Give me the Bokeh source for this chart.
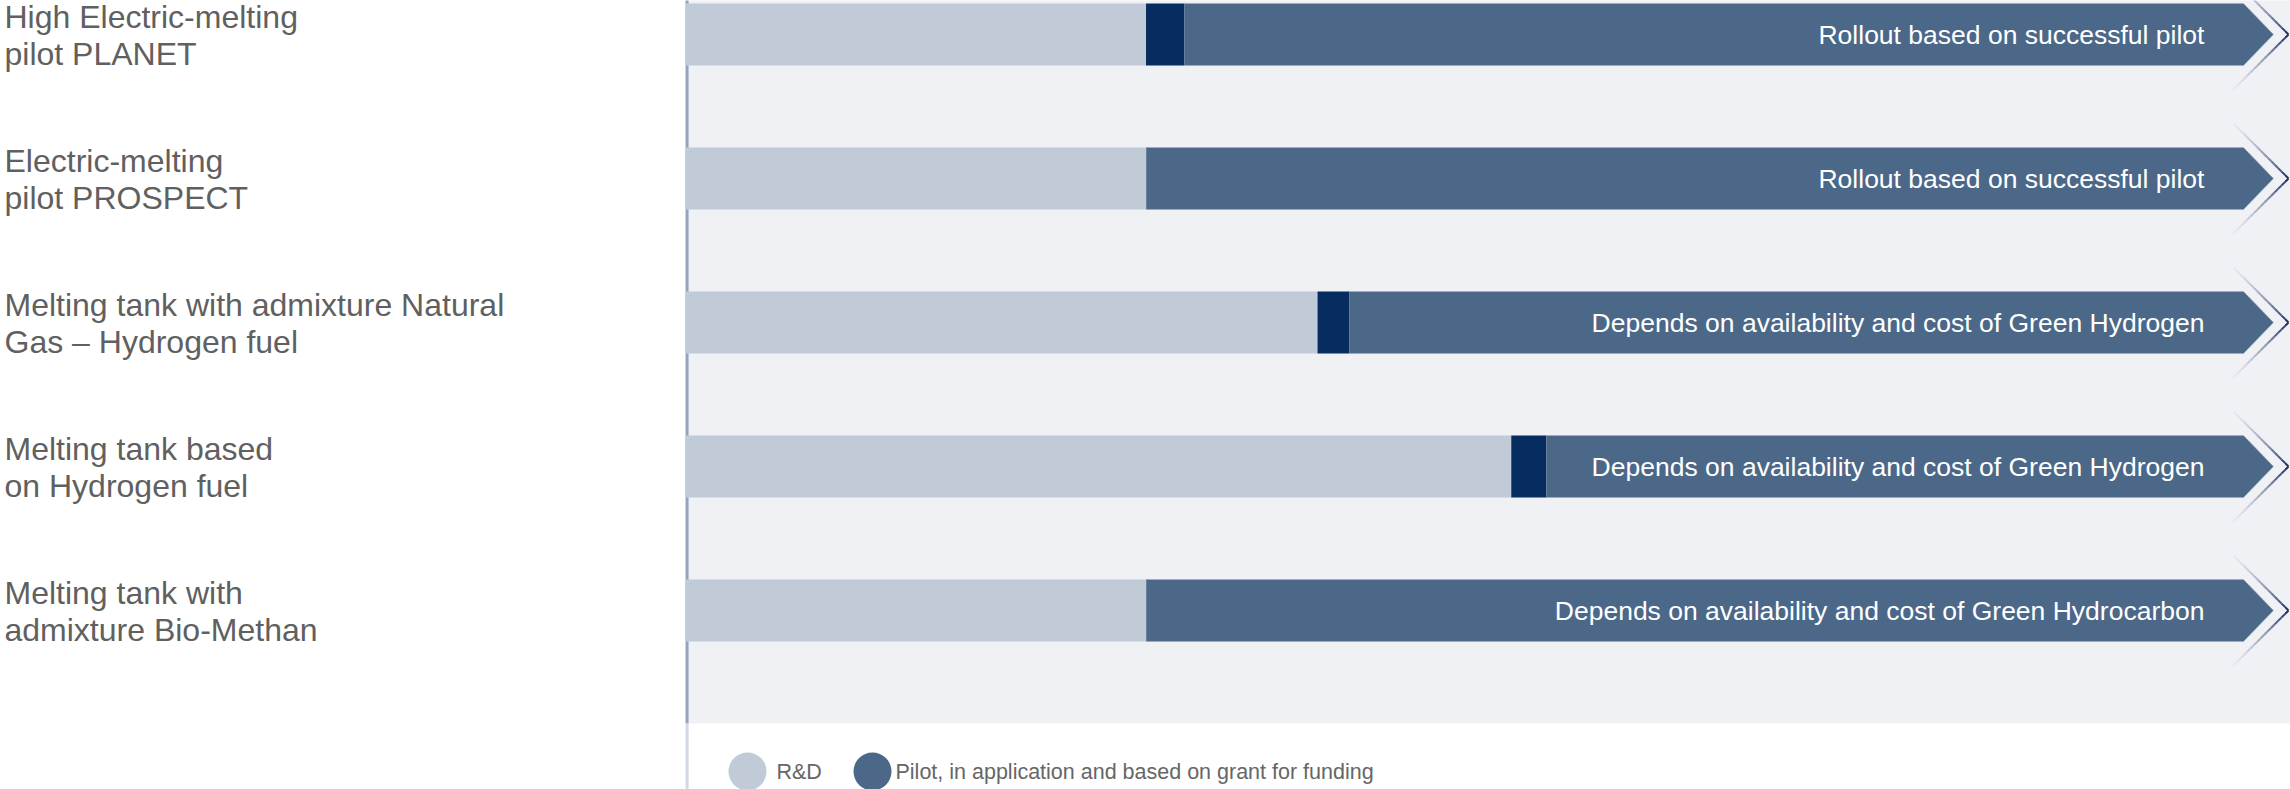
from bokeh.plotting import figure
from bokeh.models import Range1d
from bokeh.core.properties import value
from bokeh.embed import file_html
from bokeh.resources import INLINE

# ---------------- data ----------------
categories = [
    "High Electric-melting\npilot PLANET",
    "Electric-melting\npilot PROSPECT",
    "Melting tank with admixture Natural\nGas \u2013 Hydrogen fuel",
    "Melting tank based\non Hydrogen fuel",
    "Melting tank with\nadmixture Bio-Methan",
]
rd_end = [29.0, 29.0, 39.8, 52.0, 29.0]        # end of R&D phase (timeline %)
pilot_end = [31.4, 29.0, 41.8, 54.2, 29.0]     # end of pilot phase (== rd_end -> no pilot)
rollout_end = [100, 100, 100, 100, 100]        # arrow tip
notes = [
    "Rollout based on successful pilot",
    "Rollout based on successful pilot",
    "Depends on availability and cost of Green Hydrogen",
    "Depends on availability and cost of Green Hydrogen",
    "Depends on availability and cost of Green Hydrocarbon",
]
legend_labels = ["R&D", "Pilot, in application and based on grant for funding"]

# ---------------- style ----------------
C_RD = "#c1cbd8"
C_PILOT = "#062c60"
C_ROLL = "#4b6889"
C_BG = "#eff1f5"
C_LABEL = "#606060"
FONT = value("Liberation Sans")

W, H = 2290, 789
PX_X = 15.88            # px per timeline unit
X0 = 685                # px of timeline 0
PX_Y = 144              # px per category
Y0 = 34                 # px of first category centre

x_start = -X0 / PX_X
x_end = (W - X0) / PX_X
y_top = (0 - Y0) / PX_Y
y_bot = (H - Y0) / PX_Y

p = figure(width=W, height=H, x_range=Range1d(x_start, x_end),
           y_range=Range1d(y_bot, y_top), output_backend="svg",
           toolbar_location=None, x_axis_location=None, y_axis_location=None,
           min_border=0, outline_line_color=None, title=None,
           background_fill_color="white", border_fill_color="white")
p.xgrid.visible = False
p.ygrid.visible = False

ys = list(range(len(categories)))
half = 31 / PX_Y
bar_h = 2 * half
panel_bottom = (723 - Y0) / PX_Y

# background panel
p.quad(left=[0], right=[x_end + 1], top=[y_top - 1], bottom=[panel_bottom],
       fill_color=C_BG, line_color=None)

# axis line
p.segment(x0=[0.1], x1=[0.1], y0=[y_top - 1], y1=[panel_bottom],
          line_color="#95a4bb", line_width=3)
p.segment(x0=[0.1], x1=[0.1], y0=[panel_bottom], y1=[y_bot + 1],
          line_color="#d3d9e2", line_width=3)

# rollout arrows
head = 30 / PX_X
xs_poly, ys_poly = [], []
for y, s, e in zip(ys, pilot_end, rollout_end):
    be = e - head
    xs_poly.append([s, be, e, be, s])
    ys_poly.append([y - half, y - half, y, y + half, y + half])
p.patches(xs_poly, ys_poly, fill_color=C_ROLL, line_color="#9fadc1", line_width=1, line_alpha=0.6)

# R&D bars
p.hbar(y=ys, left=[0] * len(ys), right=rd_end, height=bar_h, fill_color=C_RD, line_color=None)
# pilot bars
p.hbar(y=ys, left=rd_end, right=pilot_end, height=bar_h, fill_color=C_PILOT, line_color=None)

# chevron outlines (gradient)
dx = 55 / PX_X
dy = 55 / PX_Y
N = 16
cx0, cx1, cy0, cy1, calpha = [], [], [], [], []
for y, e in zip(ys, rollout_end):
    tip = e + 15 / PX_X
    for sgn in (-1, 1):
        for k in range(N):
            t0, t1 = k / N, (k + 1) / N
            cx0.append(tip - dx + dx * t0)
            cx1.append(tip - dx + dx * t1)
            cy0.append(y + sgn * dy * (1 - t0))
            cy1.append(y + sgn * dy * (1 - t1))
            calpha.append(0.03 + 0.97 * t1 ** 1.6)
p.segment(x0=cx0, x1=cx1, y0=cy0, y1=cy1, line_color="#24326a",
          line_alpha=calpha, line_width=2)

# arrow texts
p.text(x=[95.65] * len(ys), y=ys, text=notes, text_color="white",
       text_font=FONT, text_font_size="26.5px", text_align="right",
       text_baseline="middle")

# category labels
line1 = [c.split("\n")[0] for c in categories]
line2 = [c.split("\n")[1] for c in categories]
lx = (4 - X0) / PX_X
p.text(x=[lx] * len(ys), y=ys, text=line1, y_offset=-18, text_color=C_LABEL,
       text_font=FONT, text_font_size="32px", text_align="left",
       text_baseline="alphabetic")
p.text(x=[lx] * len(ys), y=ys, text=line2, y_offset=19, text_color=C_LABEL,
       text_font=FONT, text_font_size="32px", text_align="left",
       text_baseline="alphabetic")

# legend
ly = (771 - Y0) / PX_Y
p.scatter(x=[(747 - X0) / PX_X, (872 - X0) / PX_X], y=[ly, ly], size=38, marker="circle",
          fill_color=[C_RD, C_ROLL], line_color=None)
p.text(x=[(776 - X0) / PX_X, (895 - X0) / PX_X], y=[ly, ly], text=legend_labels,
       text_color="#666666", text_font=FONT, text_font_size="21.5px", text_align="left",
       text_baseline="middle")

open("out.html", "w").write(file_html(p, INLINE))
